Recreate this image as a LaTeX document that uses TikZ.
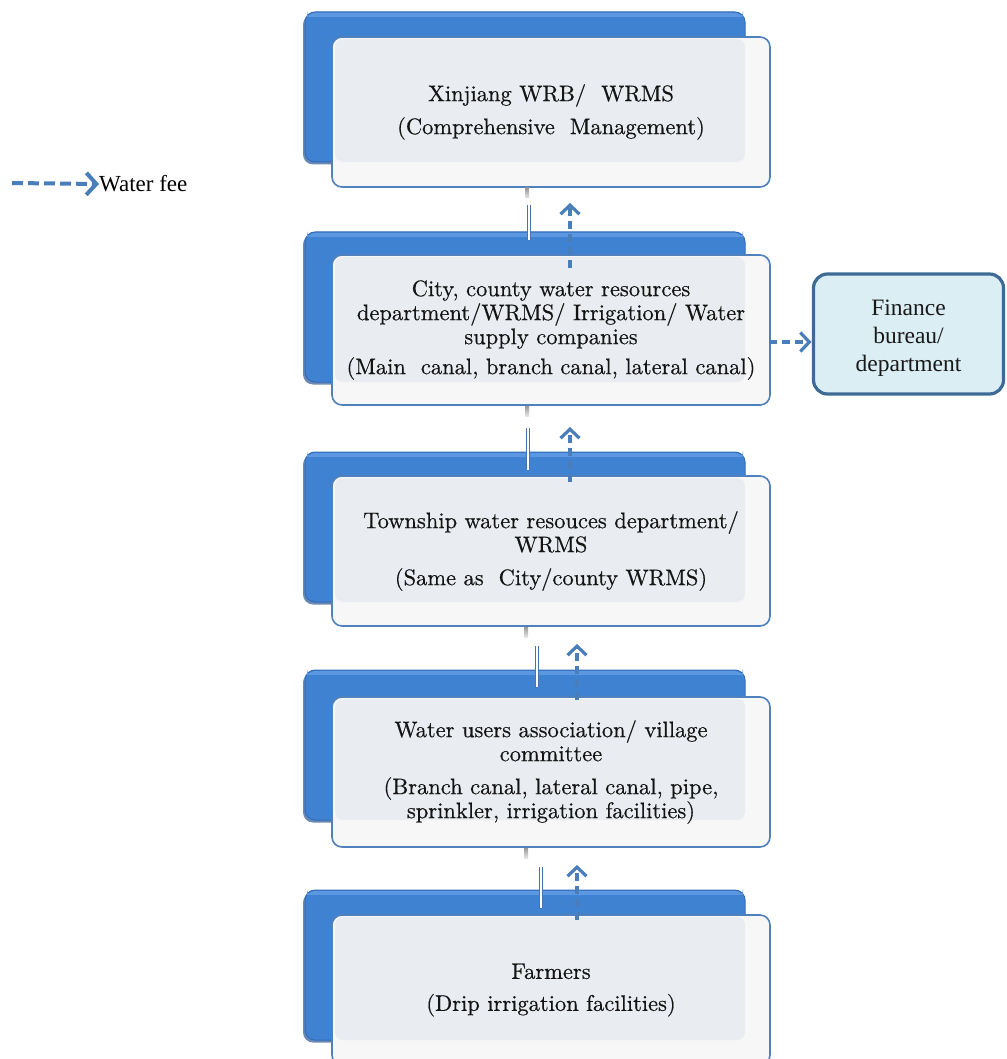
\documentclass[tikz,border=0pt]{standalone}
\usepackage{fontspec}
\newfontfamily\timesf{Liberation Serif}
\newfontfamily\boxf{lmroman10-regular.otf}[FakeBold=0.5]
\usetikzlibrary{arrows.meta,calc}
\definecolor{bkA}{RGB}{92,152,226}
\definecolor{bkB}{RGB}{64,130,210}
\definecolor{bkC}{RGB}{50,108,184}
\definecolor{bkS}{RGB}{44,88,150}
\definecolor{frline}{RGB}{79,129,189}
\definecolor{frfill}{RGB}{247,247,248}
\definecolor{frgray}{RGB}{233,236,240}
\definecolor{feec}{RGB}{74,126,187}
\definecolor{linkc}{RGB}{70,115,180}
\definecolor{finfill}{RGB}{219,238,244}
\definecolor{finline}{RGB}{62,106,150}
\tikzset{
  backbox/.style={rectangle, rounded corners=10pt, minimum width=440pt, minimum height=150pt,
    outer sep=0pt, fill=bkB, draw=bkC, line width=1pt},
  backshadow/.style={rectangle, rounded corners=10pt, minimum width=440pt, minimum height=150pt,
    outer sep=0pt, fill=bkS, opacity=0.7},
  frontbox/.style={rectangle, rounded corners=10pt, minimum width=438pt, minimum height=150pt,
    outer sep=0pt, fill=frfill, draw=frline, line width=1.6pt},
  boxtext/.style={align=center, font=\boxf\fontsize{22.5}{24}\selectfont, text=black!92, inner sep=0pt},
  feearrow/.style={draw=feec, line width=3.2pt, dash pattern=on 8pt off 5pt,
    -{Straight Barb[length=9pt,width=19pt]}},
  stubbar/.style={top color=black!40, bottom color=black!10},
  link/.style={draw=linkc, double=white, double distance=1.3pt, line width=1.1pt},
  finbox/.style={rectangle, rounded corners=14pt, minimum width=190pt, minimum height=120pt,
    outer sep=0pt, fill=finfill, draw=finline, line width=3.2pt},
  fintext/.style={align=center, inner sep=0pt,
    font=\timesf\fontsize{23.5}{28}\selectfont, text=black!90},
}
\newcommand{\levelbox}[4]{% #1 name suffix, #2 back centre y, #3 front centre y, #4 text
  \node[backshadow] (sh#1) at (523,#2+2.5) {};
  \node[backbox] (bk#1) at (525,#2) {};
  \fill[bkA, rounded corners=8pt] ($(bk#1.north west)+(2,1)$) rectangle ($(bk#1.north east)+(-2,7)$);
  \fill[bkB] ($(bk#1.north west)+(2,5)$) rectangle ($(bk#1.north east)+(-2,9)$);
  \node[frontbox] (fr#1) at (551,#3) {};
  \fill[frgray, rounded corners=8pt] ($(fr#1.north west)+(3,2)$) rectangle (bk#1.south east);
  \node[boxtext] (t#1) at (fr#1.center) {#4};
}
\begin{document}
\begin{tikzpicture}[x=1pt,y=-1pt]
\useasboundingbox (0,0) rectangle (1006,1059);
\clip (0,0) rectangle (1006,1059);
\fill[white] (0,0) rectangle (1006,1059);

\levelbox{1}{87}{112}{Xinjiang WRB/\ \ WRMS\\[9pt](Comprehensive\ \ Management)}
\levelbox{2}{307}{330}{City, county water resources\\department/WRMS/ Irrigation/ Water\\supply companies\\[6pt](Main\ \ canal, branch canal, lateral canal)}
\levelbox{3}{527}{551}{Township water resouces department/\\WRMS\\[9pt](Same as\ \ City/county WRMS)}
\levelbox{4}{745}{772}{Water users association/ village\\committee\\[9pt](Branch canal, lateral canal, pipe,\\sprinkler, irrigation facilities)}
\levelbox{5}{965}{990}{Farmers\\[8pt](Drip irrigation facilities)}

% grey stubs and double links
\fill[stubbar] ($(fr1.south)+(-26,1)$) rectangle ($(fr1.south)+(-22,11)$);
\draw[link] ($(fr1.south)+(-22,18)$) -- ($(bk2.north)+(4,8)$);
\fill[stubbar] ($(fr2.south)+(-26,1)$) rectangle ($(fr2.south)+(-22,11)$);
\draw[link] ($(fr2.south)+(-23,23)$) -- ($(bk3.north)+(3,18)$);
\fill[stubbar] ($(fr3.south)+(-27,1)$) rectangle ($(fr3.south)+(-23,11)$);
\draw[link] ($(fr3.south)+(-14,20)$) -- ($(bk4.north)+(12,17)$);
\fill[stubbar] ($(fr4.south)+(-27,1)$) rectangle ($(fr4.south)+(-23,11)$);
\draw[link] ($(fr4.south)+(-10,20)$) -- ($(bk5.north)+(16,18)$);

% water fee arrows
\draw[feearrow] ($(fr2.north)+(19,13)$) -- ($(fr1.south)+(19,16)$);
\draw[feearrow] ($(fr3.north)+(19,6)$) -- ($(fr2.south)+(19,22)$);
\draw[feearrow] ($(fr4.north)+(26,3)$) -- ($(fr3.south)+(26,18)$);
\draw[feearrow] ($(fr5.north)+(26,5)$) -- ($(fr4.south)+(26,18)$);

% finance
\node[finbox] (fin) at (908.5,334) {};
\node[fintext] (fint) at ($(fin.center)+(0,4)$) {Finance\\bureau/\\department};
\draw[feearrow] ($(fr2.east)+(-1,12)$) -- ($(fin.west)+(-2,8)$);

% legend
\coordinate (lg0) at (12,183);
\node[anchor=west, inner sep=0pt, font=\timesf\fontsize{23}{27}\selectfont] (lgt) at (99,184) {Water fee};
\draw[feearrow, line width=4pt, dash pattern=on 11pt off 5pt, -{Straight Barb[length=10pt,width=22pt]}] (lg0) -- (lgt.west);
\end{tikzpicture}
\end{document}
